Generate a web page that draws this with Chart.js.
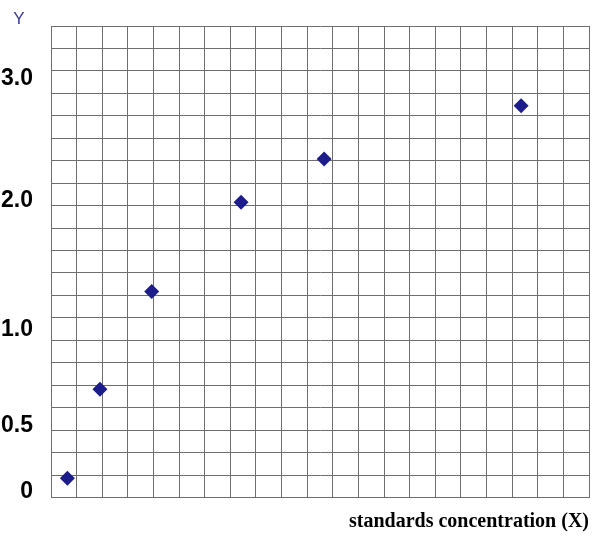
<!DOCTYPE html>
<html>
<head>
<meta charset="utf-8">
<script src="https://cdn.jsdelivr.net/npm/chart.js@4/dist/chart.umd.min.js"></script>
<style>
  html, body { margin: 0; padding: 0; background: #fff; }
  canvas { display: block; }
</style>
</head>
<body>
<canvas id="chart" width="600" height="538"></canvas>
<script>
// --- Datos (en unidades de cuadrícula) ---
const xValues = [0.64, 1.91, 3.93, 7.42, 10.66, 18.35];
const yValues = [0.86, 4.82, 9.17, 13.15, 15.08, 17.45];
const yTickLabels = ['0', '0.5', '1.0', '2.0', '3.0'];
const yTickValues = [0.27, 3.18, 7.47, 13.22, 18.66];
const gridMax = 21;
const xTitle = 'standards concentration (X)';
const yTitle = 'Y';

const gridColor = '#6e6e6e';
const pointColor = '#1c1c8a';

const points = xValues.map((x, i) => ({ x: x, y: yValues[i] }));

// Etiqueta "Y" arriba a la izquierda
const yTitlePlugin = {
    id: 'yTitle',
    afterDraw(chart) {
        const ctx = chart.ctx;
        ctx.save();
        ctx.fillStyle = '#3b3b9e';
        ctx.font = '17px "Liberation Sans", Arial, sans-serif';
        ctx.textAlign = 'center';
        ctx.textBaseline = 'middle';
        ctx.fillText(yTitle, chart.chartArea.left - 32, 19);
        ctx.restore();
    }
};

const gridAxis = {
    type: 'linear',
    min: 0,
    max: gridMax,
    ticks: { display: false, stepSize: 1, autoSkip: false, maxTicksLimit: 50 },
    grid: { color: gridColor, lineWidth: 1, drawTicks: false },
    border: { display: true, color: gridColor, width: 1 }
};

function noPadding(scale) {
    scale.paddingTop = 0;
    scale.paddingBottom = 0;
    scale.paddingLeft = 0;
    scale.paddingRight = 0;
}

new Chart(document.getElementById('chart'), {
    type: 'scatter',
    data: {
        datasets: [{
            data: points,
            pointStyle: 'rectRot',
            pointRadius: 7.5,
            pointHoverRadius: 7.5,
            backgroundColor: pointColor,
            borderColor: pointColor,
            borderWidth: 0,
            xAxisID: 'x',
            yAxisID: 'y'
        }]
    },
    options: {
        responsive: false,
        animation: false,
        layout: { padding: { top: 26, right: 11, left: 0, bottom: 0 } },
        plugins: {
            legend: { display: false },
            tooltip: { enabled: false }
        },
        scales: {
            x: {
                ...gridAxis,
                position: 'bottom',
                title: {
                    display: true,
                    text: xTitle,
                    align: 'end',
                    color: '#000',
                    font: { family: '"Liberation Serif", "Times New Roman", serif', size: 20, weight: 'bold' },
                    padding: { top: 0, bottom: 4 }
                },
                afterFit(scale) { scale.height = 40.5; noPadding(scale); }
            },
            y: {
                ...gridAxis,
                position: 'left',
                afterFit(scale) { scale.width = 0; noPadding(scale); }
            },
            yLab: {
                type: 'linear',
                position: 'left',
                min: 0,
                max: gridMax,
                grid: { display: false, drawTicks: false },
                border: { display: false },
                afterBuildTicks(scale) {
                    scale.ticks = yTickValues.map(v => ({ value: v }));
                },
                ticks: {
                    autoSkip: false,
                    padding: 18,
                    color: '#000',
                    font: { family: '"Liberation Sans", Arial, sans-serif', size: 23, weight: 'bold' },
                    callback: (value, index) => yTickLabels[index]
                },
                afterFit(scale) { scale.width = 51; noPadding(scale); }
            }
        }
    },
    plugins: [yTitlePlugin]
});
</script>
</body>
</html>
